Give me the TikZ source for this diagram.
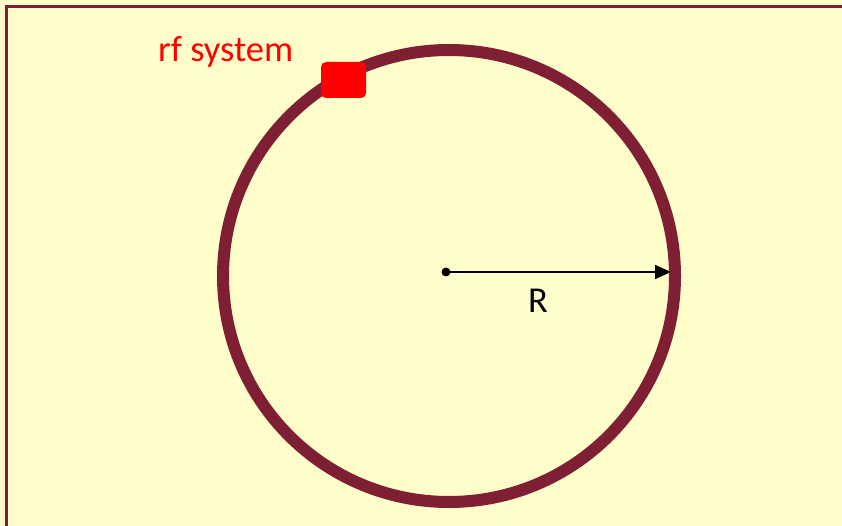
\documentclass[tikz,border=0pt]{standalone}
\usepackage{fontspec}
\setmainfont{Carlito}
\usepackage{xcolor}
\usetikzlibrary{positioning, arrows.meta}
\definecolor{paper}{HTML}{FFFDC9}
\definecolor{ringred}{HTML}{7E1F33}
\tikzset{
    ring/.style={draw=ringred, circle, line width=12pt, minimum size=452pt, inner sep=0pt},
    cavity/.style={rectangle, fill=red, rounded corners=5pt, minimum width=45pt, minimum height=36pt, inner sep=0pt},
    radius/.style={-{Triangle[length=16pt, width=14pt]}, line width=1.5pt, draw=black}
}

\begin{document}
\begin{tikzpicture}[
    x=1pt, y=-1pt,
    label/.style={font=\fontsize{36.5}{36.5}\selectfont, inner sep=0pt}
]

% Background
\useasboundingbox (0,0) rectangle (842,526);
\fill[paper] (0,0) rectangle (842,526);
\draw[ringred, line width=3.5pt] (6.5,540) -- (6.5,6.5) -- (860,6.5);

% Nodes
\node[ring] (ring) at (449,276) {};
\node[cavity] (rf) at (343.5,80) {};
\node[label, text=red, anchor=base west] (rflabel) at (158,62) {rf system};
\fill (446,272) circle (4.5pt) coordinate (ctr);
\coordinate (tip) at (671,272);
\node[label, anchor=base] (rlabel) at (538,312) {R};

% Radius
\draw[radius] (ctr) -- (tip);

\end{tikzpicture}
\end{document}
